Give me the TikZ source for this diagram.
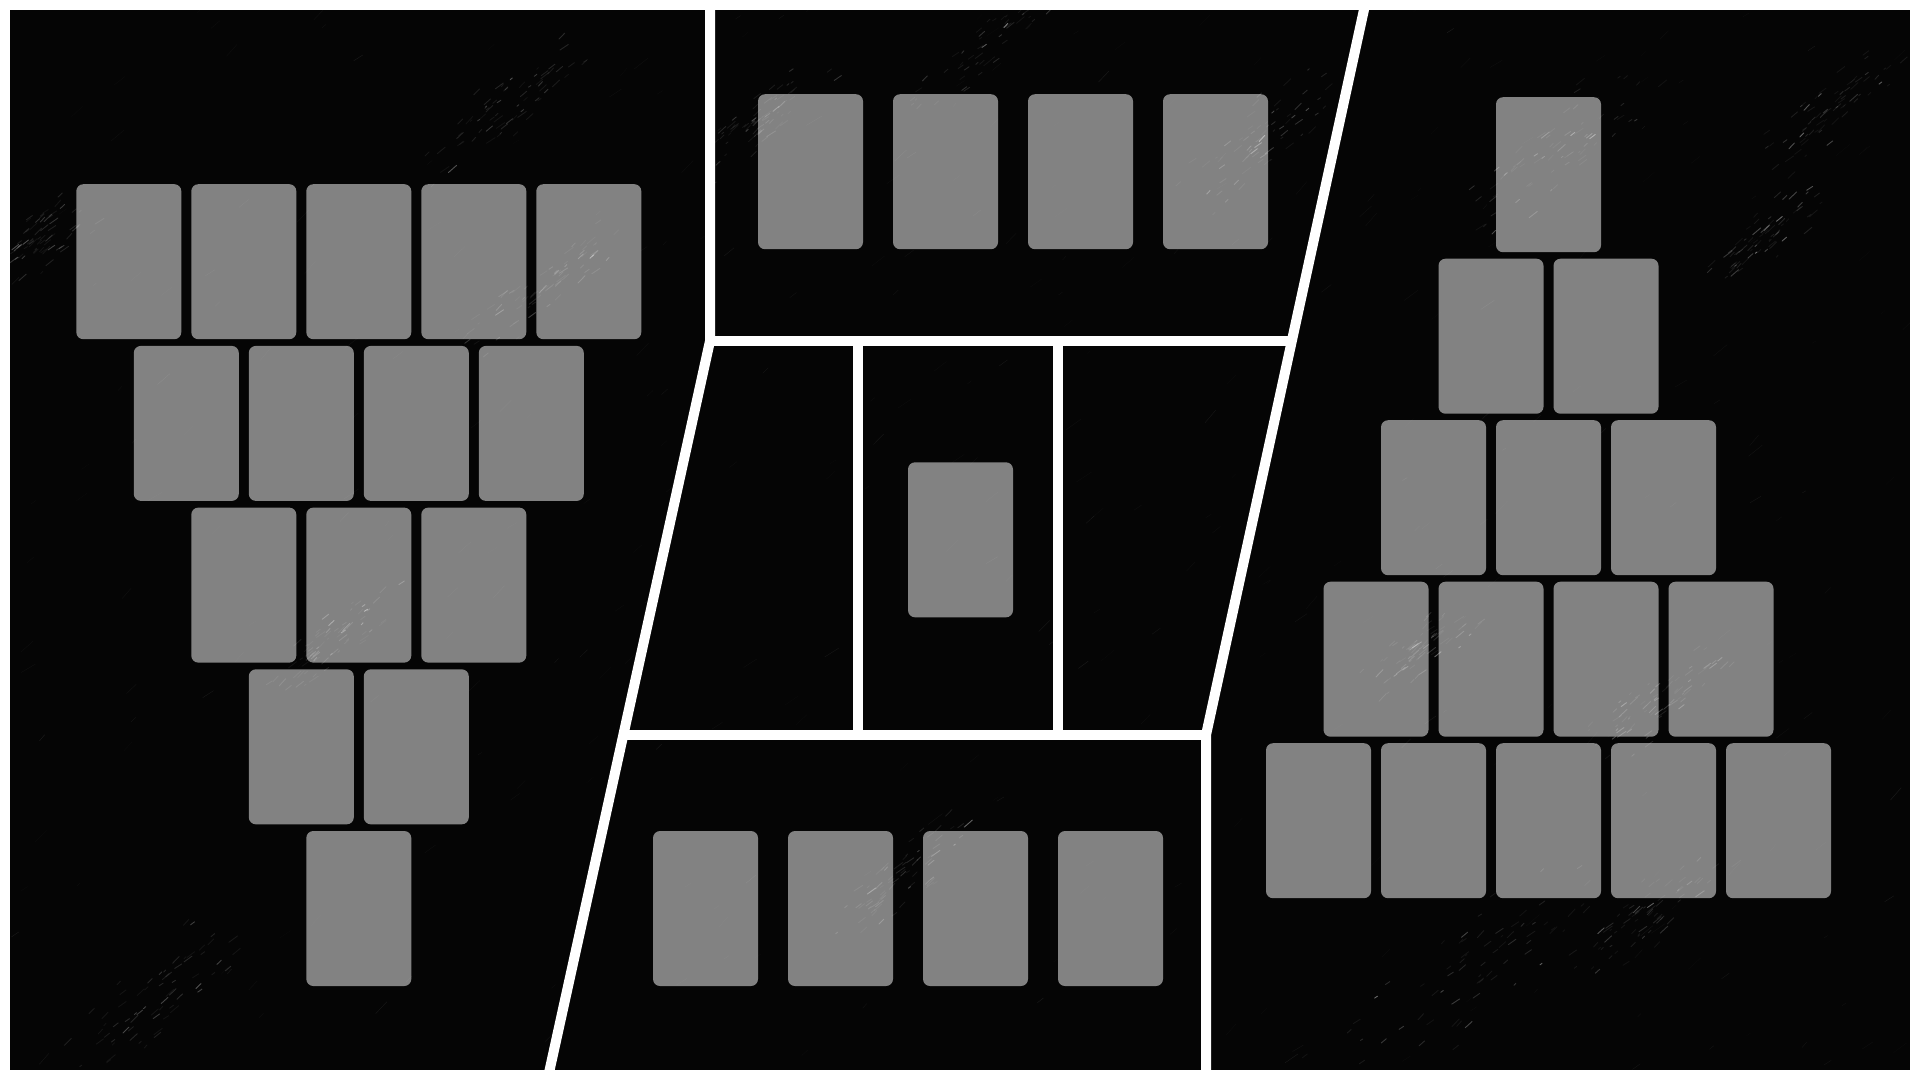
\documentclass[tikz,border=0pt]{standalone}
\begin{document}
\begin{tikzpicture}[x=1pt,y=-1pt,
  card/.style={shape=rectangle, rounded corners=7pt, fill=white, fill opacity=0.5,
    draw=none, inner sep=0pt, minimum width=105pt, minimum height=155pt},
  divider/.style={draw=white, line width=10pt, line join=miter, line cap=butt},
  streak/.style={draw=white, line cap=round}]
\useasboundingbox (0,0) rectangle (1920,1080);
\fill[white] (0,0) rectangle (1920,1080);
\fill[black!98] (10,10) rectangle (1910,1070);

% marble texture
\pgfmathsetseed{11}
\begin{scope}
\clip (10,10) rectangle (1910,1070);
\foreach \i in {1,...,350}{
  \pgfmathsetmacro{\sx}{10+1900*rnd}
  \pgfmathsetmacro{\sy}{10+1060*rnd}
  \pgfmathsetmacro{\sl}{4+14*rnd}
  \pgfmathsetmacro{\sa}{-30-20*rnd}
  \pgfmathsetmacro{\so}{0.02+0.07*rnd*rnd}
  \draw[streak, line width=0.5pt, opacity=\so] (\sx,\sy) -- ++(\sa:\sl);
}
\foreach \cx/\cy/\L/\W in {500/110/130/30, 40/240/60/30, 540/290/110/25, 1000/35/150/25,
    1270/130/130/35, 1560/150/140/40, 1830/110/110/30, 1760/240/80/25,
    1460/980/200/55, 1640/920/110/35, 150/1000/130/40, 330/640/90/25,
    1420/650/70/25, 1660/700/90/30, 760/120/90/25, 900/880/100/30}{
  \foreach \j in {1,...,70}{
    \pgfmathsetmacro{\tt}{(rnd+rnd-1)*\L}
    \pgfmathsetmacro{\ss}{(rnd+rnd-1)*\W}
    \pgfmathsetmacro{\sx}{\cx+0.77*\tt+0.64*\ss}
    \pgfmathsetmacro{\sy}{\cy-0.64*\tt+0.77*\ss}
    \pgfmathsetmacro{\sl}{2+9*rnd}
    \pgfmathsetmacro{\sa}{-32-16*rnd}
    \pgfmathsetmacro{\so}{0.05+0.5*rnd*rnd*rnd}
    \draw[streak, line width=0.9pt, opacity=\so] (\sx,\sy) -- ++(\sa:\sl);
  }
}
\end{scope}

% left panel: inverted triangle
\foreach \r/\n/\cy in {0/5/261.7, 1/4/423.4, 2/3/585.1, 3/2/746.8, 4/1/908.5}{
  \foreach \j in {1,...,\n}{
    \node[card] (L-\r-\j) at ({358.8+(\j-(\n+1)/2)*115},\cy) {};
  }
}
% right panel: triangle
\foreach \r/\n/\cy in {0/1/174.7, 1/2/336.2, 2/3/497.7, 3/4/659.2, 4/5/820.7}{
  \foreach \j in {1,...,\n}{
    \node[card] (R-\r-\j) at ({1548.5+(\j-(\n+1)/2)*115},\cy) {};
  }
}
% top middle row
\foreach \j/\cx in {1/810.5, 2/945.5, 3/1080.5, 4/1215.5}{
  \node[card] (T-\j) at (\cx,171.7) {};
}
% bottom middle row
\foreach \j/\cx in {1/705.5, 2/840.5, 3/975.5, 4/1110.5}{
  \node[card] (B-\j) at (\cx,908.5) {};
}
% centre card
\node[card] (C) at (960.5,539.8) {};

% white dividers
\coordinate (lt) at (710,10);
\coordinate (lk) at (710,341);
\coordinate (lb) at (548.5,1075);
\coordinate (rt) at (1365,5);
\coordinate (rk) at (1206,735);
\coordinate (rb) at (1206,1075);
\draw[divider] (lt) -- (lk) -- (lb);
\draw[divider] (rt) -- (rk) -- (rb);
\draw[divider] (lk) -- (1293.5,341);
\draw[divider] (622.5,735) -- (rk);
\draw[divider] (857.7,341) -- (857.7,735);
\draw[divider] (1058.3,341) -- (1058.3,735);
% outer frame
\draw[white, line width=10pt] (5,5) rectangle (1915,1075);
\end{tikzpicture}
\end{document}
